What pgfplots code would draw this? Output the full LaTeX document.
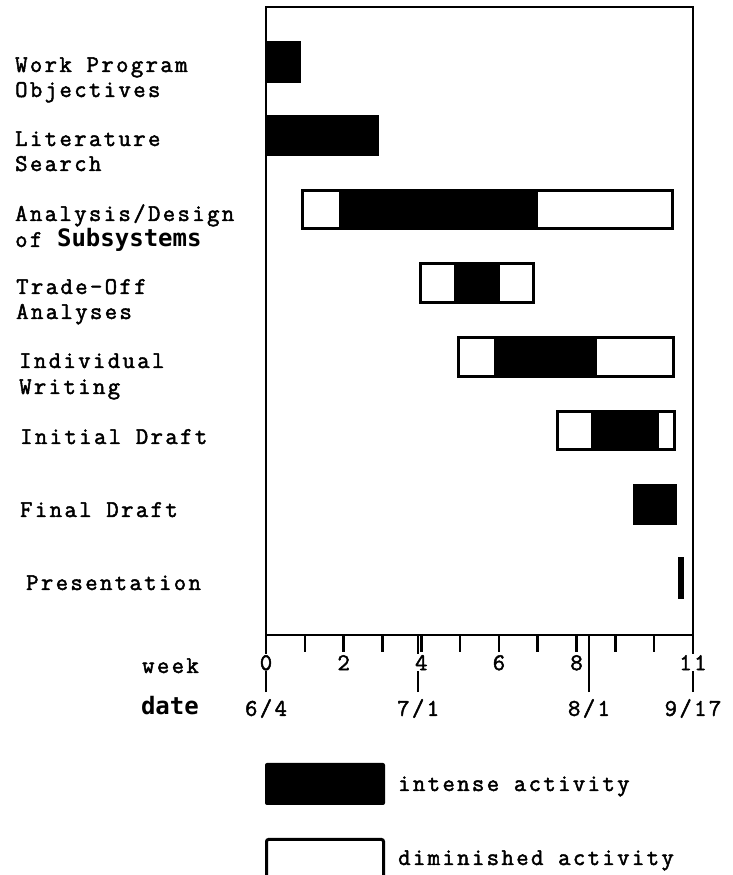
\documentclass[border=0pt]{standalone}
\usepackage{pgfplots}
\pgfplotsset{compat=1.18}
\usepackage{fontspec}
\setmainfont{Latin Modern Mono}
\newfontfamily\tw[FakeBold=2.0, LetterSpace=10]{Latin Modern Mono}
\newfontfamily\dvb{DejaVu Sans Mono}
\newcommand{\tf}{\fontsize{24}{24}\selectfont\tw}
\newcommand{\bft}{\fontsize{24}{24}\selectfont\dvb\bfseries}
\begin{document}
\begin{tikzpicture}
\begin{axis}[
  set layers,
  at={(266pt,240pt)}, anchor=south west,
  scale only axis, width=427pt, height=628pt,
  xmin=0, xmax=11, ymin=0.254, ymax=8.773, y dir=reverse,
  xbar stacked, bar width=0.52,
  axis line style={line width=2.5pt},
  ytick=\empty,
  xtick={0,...,11}, xticklabels={0,,2,,4,,6,,8,,,11},
  xtick pos=lower, tick align=outside,
  major tick length=17pt,
  tick style={black, line width=2.5pt},
  xticklabel style={font=\tf, fill=white, inner sep=1pt, yshift=-2pt},
  extra x ticks={0,3.92,8.32,11},
  extra x tick labels={6/4,7/1,8/1,9/17},
  extra x tick style={major tick length=57pt, xticklabel style={fill=none, inner sep=2pt, yshift=-3pt}},
  clip=false,
]
% offset (invisible)
\addplot[draw=none, fill=none] coordinates {(0,1) (0,2) (0.94,3) (3.97,4) (4.97,5) (7.51,6) (9.50,7) (10.66,8)};
% diminished activity (before)
\addplot[draw=black, fill=white, line width=3pt] coordinates {(0,1) (0,2) (0.97,3) (0.92,4) (0.95,5) (0.89,6) (0,7) (0,8)};
% intense activity
\addplot[draw=black, fill=black, line width=3pt] coordinates {(0.86,1) (2.87,2) (5.05,3) (1.09,4) (2.58,5) (1.68,6) (1.05,7) (0.07,8)};
% diminished activity (after)
\addplot[draw=black, fill=white, line width=3pt] coordinates {(0,1) (0,2) (3.51,3) (0.92,4) (2.00,5) (0.44,6) (0,7) (0,8)};
\end{axis}
% row labels
\node[anchor=base west, inner sep=0pt] at (15pt,803pt) {\tf Work Program};
\node[anchor=base west, inner sep=0pt] at (15pt,778pt) {\tf Objectives};
\node[anchor=base west, inner sep=0pt] at (15pt,729pt) {\tf Literature};
\node[anchor=base west, inner sep=0pt] at (15pt,704pt) {\tf Search};
\node[anchor=base west, inner sep=0pt] at (15pt,654pt) {\tf Analysis/Design};
\node[anchor=base west, inner sep=0pt] at (15pt,628pt) {\tf of {\bft Subsystems}};
\node[anchor=base west, inner sep=0pt] at (16pt,581pt) {\tf Trade-Off};
\node[anchor=base west, inner sep=0pt] at (16pt,556pt) {\tf Analyses};
\node[anchor=base west, inner sep=0pt] at (19pt,507pt) {\tf Individual};
\node[anchor=base west, inner sep=0pt] at (19pt,481pt) {\tf Writing};
\node[anchor=base west, inner sep=0pt] at (20pt,431pt) {\tf Initial Draft};
\node[anchor=base west, inner sep=0pt] at (20pt,358pt) {\tf Final Draft};
\node[anchor=base west, inner sep=0pt] at (26pt,285pt) {\tf Presentation};
% axis row names
\node[anchor=base east, inner sep=0pt] at (199pt,202pt) {\tf week};
\node[anchor=base east, inner sep=0pt] at (199pt,160pt) {\bft date};
% legend
\fill[black, rounded corners=2pt] (265pt,70pt) rectangle (385pt,112pt);
\node[anchor=base west, inner sep=0pt] at (398pt,84pt) {\tf intense activity};
\draw[black, line width=3pt, rounded corners=2pt] (266.5pt,-8pt) rectangle (383.5pt,35.5pt);
\node[anchor=base west, inner sep=0pt] at (398pt,10pt) {\tf diminished activity};
\pgfresetboundingbox
\path[use as bounding box] (0pt,0pt) rectangle (732pt,875pt);
\end{tikzpicture}
\end{document}
